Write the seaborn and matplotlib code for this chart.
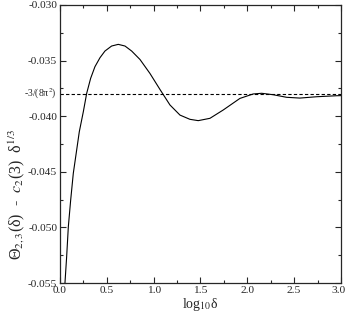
import numpy as np
import pandas as pd
import matplotlib
matplotlib.use("Agg")
import matplotlib.pyplot as plt
import matplotlib.transforms as mtransforms
import seaborn as sns

# values
log_delta = [0.048, 0.053, 0.071, 0.089, 0.114, 0.142, 0.178, 0.206, 0.249,
             0.285, 0.327, 0.373, 0.427, 0.480, 0.551, 0.622, 0.694, 0.765,
             0.854, 0.960, 1.067, 1.174, 1.281, 1.387, 1.476, 1.601, 1.743,
             1.921, 2.063, 2.153, 2.277, 2.419, 2.561, 2.740, 2.953, 3.000]
theta_diff = [-0.0556, -0.0550, -0.05264, -0.04994, -0.04754, -0.04514,
              -0.04304, -0.04140, -0.03960, -0.03794, -0.03660, -0.03555,
              -0.03474, -0.03414, -0.03369, -0.03354, -0.03369, -0.03414,
              -0.03490, -0.03615, -0.03759, -0.03899, -0.03990, -0.04028,
              -0.04040, -0.04019, -0.03944, -0.03840, -0.03800, -0.03794,
              -0.03807, -0.03830, -0.03837, -0.03825, -0.03816, -0.03815]
asymptote = -3 / (8 * np.pi ** 2)

x_ticks = [0.0, 0.5, 1.0, 1.5, 2.0, 2.5, 3.0]
y_ticks = [-0.055, -0.050, -0.045, -0.040, -0.035, -0.030]

sns.set_style("ticks")
plt.rcParams['font.family'] = ['Liberation Serif', 'DejaVu Serif']
plt.rcParams['mathtext.fontset'] = 'stix'
plt.rcParams['axes.unicode_minus'] = False

df = pd.DataFrame({'x': log_delta, 'y': theta_diff})

fig = plt.figure(figsize=(3.46, 3.16), dpi=100)
ax = fig.add_axes([0.1734, 0.1044, 0.8121, 0.8798])

sns.lineplot(data=df, x='x', y='y', ax=ax, color='black', linewidth=0.8)
ax.axhline(asymptote, color='black', linewidth=0.8, linestyle=(0, (3, 2)))

ax.set_xlim(0, 3)
ax.set_ylim(-0.055, -0.030)
ax.set_xticks(x_ticks)
ax.set_xticklabels([f"{v:.1f}" for v in x_ticks])
ax.set_yticks(y_ticks)
ax.set_yticklabels([f"{v:.3f}" for v in y_ticks])
ax.set_xticks(np.arange(0.25, 3.0, 0.5), minor=True)
ax.set_yticks(np.arange(-0.0525, -0.030, 0.005), minor=True)

ax.tick_params(which='both', direction='in', top=True, right=True,
               labelsize=8.2, width=0.8, pad=2)
ax.tick_params(which='major', length=4)
ax.tick_params(which='minor', length=2)
for s in ax.spines.values():
    s.set_linewidth(0.9)

# keep the last x label inside the canvas
last = ax.get_xticklabels()[-1]
last.set_transform(last.get_transform() +
                   mtransforms.ScaledTranslation(-2 / 72, 0, fig.dpi_scale_trans))

ax.set_xlabel('log$_{10}$δ', fontsize=10, labelpad=1)
ax.set_ylabel('Θ$_{2,3}$(δ)  -  $c_2$(3)  δ$^{1/3}$', fontsize=11.5)
ax.yaxis.set_label_coords(-0.118, 0.32)
ax.text(-0.01, asymptote, '-3/(8π$^2$)', transform=ax.get_yaxis_transform(),
        ha='right', va='center', fontsize=7)

fig.savefig('out.png', dpi=100)
